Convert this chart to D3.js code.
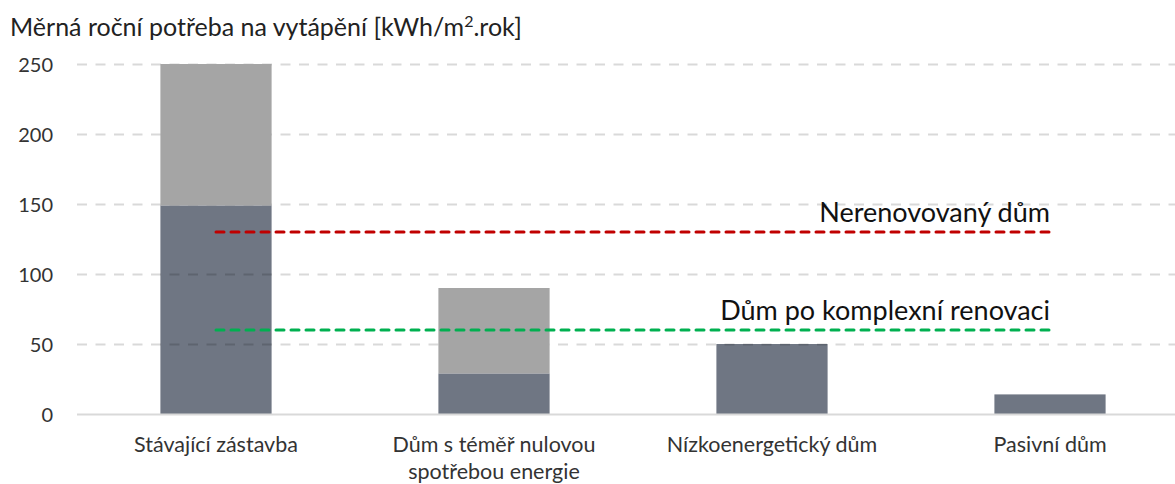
<!DOCTYPE html>
<html><head><meta charset="utf-8">
<script src="https://cdn.jsdelivr.net/npm/d3@7"></script>
<style>body{margin:0;background:#fff}svg{display:block}</style>
</head><body>
<svg id="c" width="1175" height="484"></svg>
<script>
const categories = ["Stávající zástavba", "Dům s téměř nulovou\nspotřebou energie", "Nízkoenergetický dům", "Pasivní dům"];
const baseValues = [149, 29, 50, 14];
const extraValues = [101, 61, 0, 0];
const unrenovated = [130, 130, 130, 130];
const renovated = [60, 60, 60, 60];
const yTicks = [0, 50, 100, 150, 200, 250];
const title = "Měrná roční potřeba na vytápění [kWh/m";
const lineLabels = ["Nerenovovaný dům", "Dům po komplexní renovaci"];

const svg = d3.select("#c");
const font = "Lato, 'Open Sans', sans-serif";
const x = d3.scaleBand().domain(categories).range([77, 1189]).paddingInner(0.6).paddingOuter(0.3);
const y = d3.scaleLinear().domain([0, 250]).range([414, 64]);

// title
const t = svg.append("text").attr("x", 10).attr("y", 36).attr("font-family", font).attr("font-size", 25).attr("fill", "#222");
t.append("tspan").text(title);
t.append("tspan").attr("font-size", 16).attr("dy", -9).text("2");
t.append("tspan").attr("dy", 9).text(".rok]");

// dark bars
svg.append("g").selectAll("rect").data(categories).join("rect")
  .attr("x", d => x(d)).attr("width", x.bandwidth())
  .attr("y", (d, i) => y(baseValues[i])).attr("height", (d, i) => y(0) - y(baseValues[i]))
  .attr("fill", "#6f7683");

// gridlines
const yAxis = d3.axisLeft(y).tickValues(yTicks).tickSize(-(1175 - 77)).tickPadding(24);
const ga = svg.append("g").attr("transform", "translate(77,0)").call(yAxis);
ga.select(".domain").remove();
ga.selectAll(".tick line").attr("stroke", "rgba(0,0,0,0.15)").attr("stroke-width", 2).attr("stroke-dasharray", "10,8.5")
  .filter(d => d === 0).attr("stroke", "#d9d9d9").attr("stroke-dasharray", null);
ga.selectAll(".tick text").attr("font-family", font).attr("font-size", 20).attr("fill", "#333").attr("dy", "0.35em");

// light bars
svg.append("g").selectAll("rect").data(categories).join("rect")
  .attr("x", d => x(d)).attr("width", x.bandwidth())
  .attr("y", (d, i) => y(baseValues[i] + extraValues[i])).attr("height", (d, i) => y(baseValues[i]) - y(baseValues[i] + extraValues[i]))
  .attr("fill", "#a5a5a5");

// category axis
const xAxis = d3.axisBottom(x).tickSize(0).tickPadding(0);
const gx = svg.append("g").attr("transform", "translate(0,414)").call(xAxis);
gx.select(".domain").remove();
gx.selectAll(".tick text").each(function(d) {
  const el = d3.select(this).text(null).attr("font-family", font).attr("font-size", 21.5).attr("fill", "#333").attr("dy", null).attr("y", 38);
  d.split("\n").forEach((s, i) => el.append("tspan").attr("x", 0).attr("dy", i ? 27 : 0).text(s));
});

// lines
const line = d3.line().x((d, i) => x(categories[i]) + x.bandwidth() / 2).y(d => y(d));
[[unrenovated, "#c00000"], [renovated, "#00b050"]].forEach(([data, col], k) => {
  svg.append("path").datum(data).attr("d", line).attr("fill", "none").attr("stroke", col)
    .attr("stroke-width", 3).attr("stroke-dasharray", "8,7").attr("stroke-linecap", "round");
  svg.append("text").attr("x", x(categories[3]) + x.bandwidth() / 2).attr("y", y(data[3]) - 10)
    .attr("text-anchor", "end").attr("font-family", font).attr("font-size", 27).attr("fill", "#111").text(lineLabels[k]);
});
</script>
</body></html>
